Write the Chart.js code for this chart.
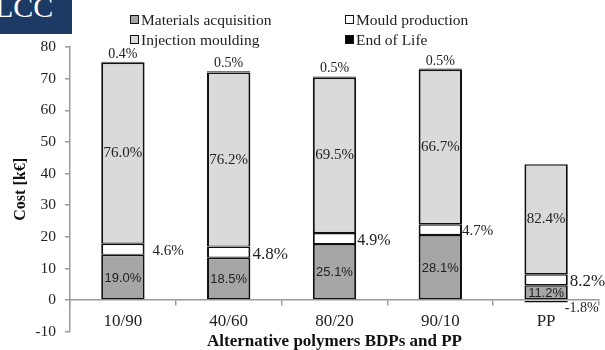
<!DOCTYPE html>
<html>
<head>
<meta charset="utf-8">
<script src="https://cdn.jsdelivr.net/npm/chart.js@4.4.1/dist/chart.umd.min.js"></script>
<style>
  html, body { margin: 0; padding: 0; background: #fff; }
  #wrap { position: relative; width: 605px; height: 350px; overflow: hidden;
          font-family: "Liberation Serif", "Times New Roman", serif; color: #222; }
  #badge { position: absolute; left: 0; top: 0; width: 72px; height: 34px; background: #1c3a64; overflow: hidden; }
  #badge span { position: absolute; left: -5px; top: -8px; font-size: 30px; line-height: 30px; color: #fff; }
  .lg { position: absolute; font-size: 15.5px; line-height: 18px; white-space: nowrap; }
  .lg i { display: inline-block; width: 7px; height: 7px; border: 1.5px solid #111; margin-right: 2px; vertical-align: 1px; }
  canvas { position: absolute; left: 0; top: 0; }
</style>
</head>
<body>
<div id="wrap">
  <canvas id="c" width="605" height="350"></canvas>
  <div id="badge"><span>LCC</span></div>
</div>
<script>
// ---- data (k€)
const CATEGORIES = ["10/90", "40/60", "80/20", "90/10", "PP"];
const MATERIALS  = [14.3, 13.4, 17.7, 20.6, 4.7];
const MOULD      = [3.5, 3.5, 3.5, 3.4, 3.5];
const INJECTION  = [57.2, 55.0, 49.1, 48.8, 34.7];
const END_OF_LIFE = [0.3, 0.4, 0.4, 0.4, -0.8];
// share of total cost, as printed on the bars
const PCT_MATERIALS = [19.0, 18.5, 25.1, 28.1, 11.2];
const PCT_MOULD     = [4.6, 4.8, 4.9, 4.7, 8.2];
const PCT_INJECTION = [76.0, 76.2, 69.5, 66.7, 82.4];
const PCT_EOL       = [0.4, 0.5, 0.5, 0.5, -1.8];
const Y_MIN = -10, Y_MAX = 80, Y_STEP = 10;

// ---- styling
const SERIF = '"Liberation Serif", "Times New Roman", serif';
const NARROW = '"Liberation Sans Narrow", "Arial Narrow", "Liberation Sans", sans-serif';
const AXIS_GREY = "#9a9a9a";
const MOULD_DX = [8, 2, 1, 0, 2];          // label gap right of the bar
const MOULD_SIZE = [15, 17, 16, 15, 17];    // label font sizes differ in the source
const LEGEND_AT = [[130, 11], [345, 11], [130, 31], [345, 31]];

const series = [
  { label: "Materials acquisition", data: MATERIALS, color: "#a6a6a6", pct: PCT_MATERIALS },
  { label: "Mould production", data: MOULD, color: "#ffffff", pct: PCT_MOULD },
  { label: "Injection moulding", data: INJECTION, color: "#dadada", pct: PCT_INJECTION },
  { label: "End of Life", data: END_OF_LIFE, color: "#000000", pct: PCT_EOL },
];

// legend as a 2x2 grid, like the source
const wrap = document.getElementById("wrap");
series.forEach((s, i) => {
  const d = document.createElement("div");
  d.className = "lg";
  d.style.left = LEGEND_AT[i][0] + "px";
  d.style.top = LEGEND_AT[i][1] + "px";
  d.innerHTML = `<i style="background:${s.color}"></i>${s.label}`;
  wrap.appendChild(d);
});

const fmt = v => v.toFixed(1) + "%";

// percentage labels: inside for materials/injection, beside for mould, above/below for EoL
const pctLabels = {
  id: "pctLabels",
  afterDatasetsDraw(chart) {
    const ctx = chart.ctx;
    ctx.save();
    ctx.fillStyle = "#222";
    series.forEach((s, di) => {
      chart.getDatasetMeta(di).data.forEach((bar, i) => {
        const { x, y, base, width } = bar.getProps(["x", "y", "base", "width"], true);
        const mid = (y + base) / 2, txt = fmt(s.pct[i]);
        if (di === 0) {
          ctx.font = `13px ${NARROW}`; ctx.textAlign = "center"; ctx.textBaseline = "middle";
          ctx.fillText(txt, x, mid + 1);
        } else if (di === 2) {
          ctx.font = `15px ${SERIF}`; ctx.textAlign = "center"; ctx.textBaseline = "middle";
          ctx.fillText(txt, x, mid);
        } else if (di === 1) {
          ctx.font = `${MOULD_SIZE[i]}px ${SERIF}`; ctx.textAlign = "left"; ctx.textBaseline = "middle";
          ctx.fillText(txt, x + width / 2 + MOULD_DX[i], mid + 2);
        } else if (s.data[i] >= 0) {
          ctx.font = `14px ${SERIF}`; ctx.textAlign = "center"; ctx.textBaseline = "alphabetic";
          ctx.fillText(txt, x, y - 4);
        } else {
          ctx.font = `14px ${SERIF}`; ctx.textAlign = "left"; ctx.textBaseline = "top";
          ctx.fillText(txt, x + width / 2 - 3, y - 1);
        }
      });
    });
    ctx.restore();
  },
};

new Chart(document.getElementById("c"), {
  type: "bar",
  data: {
    labels: CATEGORIES,
    datasets: series.map(s => ({
      label: s.label, data: s.data, backgroundColor: s.color,
      borderColor: "#111", borderWidth: { left: 2, right: 2, top: 1.5, bottom: 1.2 },
      borderSkipped: false, barPercentage: 0.41, categoryPercentage: 1,
    })),
  },
  options: {
    responsive: false, devicePixelRatio: 1, animation: false,
    layout: { padding: { top: 47, right: 6, bottom: 0, left: 0 } },
    plugins: { legend: { display: false }, tooltip: { enabled: false } },
    scales: {
      x: {
        stacked: true,
        position: { y: 0 },
        afterFit(scale) { scale.height = 18.4; },
        grid: { display: true, drawOnChartArea: false, drawTicks: true, tickLength: 5, color: AXIS_GREY, lineWidth: 1.5 },
        border: { display: true, color: AXIS_GREY, width: 1.5 },
        ticks: { color: "#222", font: { family: SERIF, size: 17 }, padding: 6 },
        title: { display: true, text: "Alternative polymers BDPs and PP", color: "#111",
                 font: { family: SERIF, size: 17, weight: "bold" }, padding: { top: 0, bottom: -33 } },
      },
      y: {
        stacked: true, min: Y_MIN, max: Y_MAX,
        afterFit(scale) { scale.width = 70; },
        grid: { display: true, drawOnChartArea: false, drawTicks: true, tickLength: 5, color: AXIS_GREY, lineWidth: 1.5 },
        border: { display: true, color: AXIS_GREY, width: 1.5 },
        ticks: { stepSize: Y_STEP, color: "#222", font: { family: SERIF, size: 15.5 }, padding: 9 },
        title: { display: true, text: "Cost [k€]", color: "#111",
                 font: { family: SERIF, size: 16, weight: "bold" }, padding: { top: 11, bottom: 0 } },
      },
    },
  },
  plugins: [pctLabels],
});
</script>
</body>
</html>
